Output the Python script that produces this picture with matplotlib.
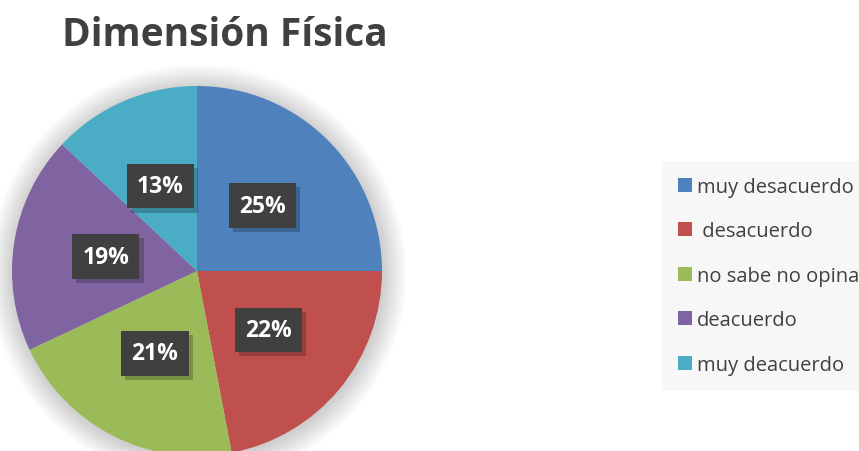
import matplotlib.pyplot as plt
import matplotlib.patheffects as pe
from matplotlib.patches import Circle, Patch

# data
categories = ['muy desacuerdo', ' desacuerdo', 'no sabe no opina', 'deacuerdo', 'muy deacuerdo']
values = [25, 22, 21, 19, 13]
colors = ['#4F81BD', '#C0504D', '#9BBB59', '#8064A2', '#4BACC6']
title = 'Dimensión Física'

W, H = 859, 452
fig = plt.figure(figsize=(W / 100, H / 100), dpi=100, facecolor='white')
ax = fig.add_axes([0, 0, 1, 1])

cx, cy, r = 197, H - 272, 185

# soft shadow around the pie
for k in range(24, 0, -1):
    ax.add_patch(Circle((cx + 1, cy - 2), r + k, facecolor='black',
                        edgecolor='none', alpha=0.008, zorder=0))

wedges, texts, autotexts = ax.pie(
    values, colors=colors, startangle=90, counterclock=False,
    center=(cx, cy), radius=r, autopct='%1.0f%%', pctdistance=0.5,
    wedgeprops=dict(linewidth=0), frame=True,
    textprops=dict(color='white', fontsize=16.5, fontweight='bold',
                   family='Open Sans'))

for t in autotexts:
    t.set_bbox(dict(boxstyle='square,pad=0.45', fc='#404040', ec='none'))
    t.get_bbox_patch().set_path_effects(
        [pe.SimplePatchShadow(offset=(3, -3), shadow_rgbFace='black', alpha=0.22),
         pe.Normal()])

ax.set_xlim(0, W)
ax.set_ylim(0, H)
ax.set_aspect('equal')
ax.axis('off')

fig.text(62 / W, 1 - 35 / H, title, fontsize=28, fontweight='bold',
         color='#404040', family='Open Sans', va='center', ha='left')

handles = [Patch(facecolor=c, edgecolor='none') for c in colors]
leg = ax.legend(handles, categories, loc='upper left',
                bbox_to_anchor=(662 / W, 1 - 162 / H), bbox_transform=fig.transFigure,
                prop=dict(family='Open Sans', size=14.5), labelcolor='#404040',
                frameon=True, fancybox=False, facecolor='#f7f7f7', edgecolor='none',
                framealpha=1, handlelength=0.7, handleheight=0.7,
                handletextpad=0.25, labelspacing=1.22, borderpad=0.78,
                borderaxespad=0)

fig.savefig('out.png', dpi=100)
